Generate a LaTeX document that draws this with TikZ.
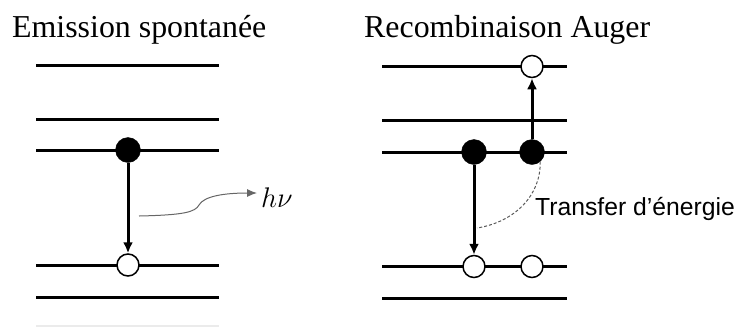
\RequirePackage{fix-cm}
\documentclass[tikz,border=0pt]{standalone}
\usepackage{fontspec}
\setmainfont{Liberation Serif}
\newfontfamily\arialfont{Liberation Sans}
\usepackage{amsmath}
\usepackage{tikz}
\usetikzlibrary{arrows.meta,calc,positioning}
\tikzset{>={Latex[length=11bp,width=10bp]}}

\begin{document}
\begin{tikzpicture}[x=1bp,y=-1bp,
  level/.style={line width=3bp, black},
  elec/.style={circle, fill=black, draw=black, minimum size=25bp, inner sep=0pt},
  hole/.style={circle, fill=white, draw=black, line width=1.5bp, minimum size=22bp, inner sep=0pt},
  trans/.style={->, line width=3bp},
  ]
  \useasboundingbox (0,0) rectangle (738,327);
  % titres
  \node[anchor=base west, inner sep=0pt, font=\fontsize{32}{38}\selectfont] (tsp) at (12,37) {Emission spontanée};
  \node[anchor=base west, inner sep=0pt, font=\fontsize{32}{38}\selectfont] (tau) at (364,37) {Recombinaison Auger};
  % niveaux
  \foreach \y in {65,119,150,265,297} \draw[level] (36,\y) -- (219,\y);
  \draw[line width=1.2bp, black!8] (36,326) -- (219,326);
  \foreach \y in {66.5,120.5,152,266.5,298} \draw[level] (382,\y) -- (567,\y);
  % emission spontanee
  \node[elec] (e1) at (128,150) {};
  \node[hole] (h1) at (128,265) {};
  \draw[trans] (e1) -- (h1);
  \coordinate (ph) at (139,216);
  \node[anchor=base west, inner sep=5bp, font=\fontsize{28.5}{34}\selectfont] (hnu) at (256,207) {$h\nu$};
  \draw[->, black!60, line width=1bp, >={Latex[length=10bp,width=8bp]}] (ph) .. controls (185,215) and (195,212) .. (199,205) .. controls (204,196) and (225,193) .. ($(hnu.base west)+(1,-14)$);
  % recombinaison Auger
  \node[elec] (e2) at (474,152) {};
  \node[elec] (e3) at (532,152) {};
  \node[hole] (h2) at (474,266.5) {};
  \node[hole] (h3) at (532,266.5) {};
  \node[hole] (h4) at (532,66.5) {};
  \draw[trans] (e2) -- (h2);
  \draw[trans] (e3) -- (h4);
  \coordinate (tf) at (477,228);
  \draw[black!65, line width=1bp, dash pattern=on 3bp off 2bp] (e3.-50) .. controls (541,195) and (515,222) .. (tf);
  \node[anchor=base west, inner sep=0pt, font=\arialfont\fontsize{24.8}{30}\selectfont] (tr) at (535,215) {Transfer d’énergie};
\end{tikzpicture}
\end{document}
